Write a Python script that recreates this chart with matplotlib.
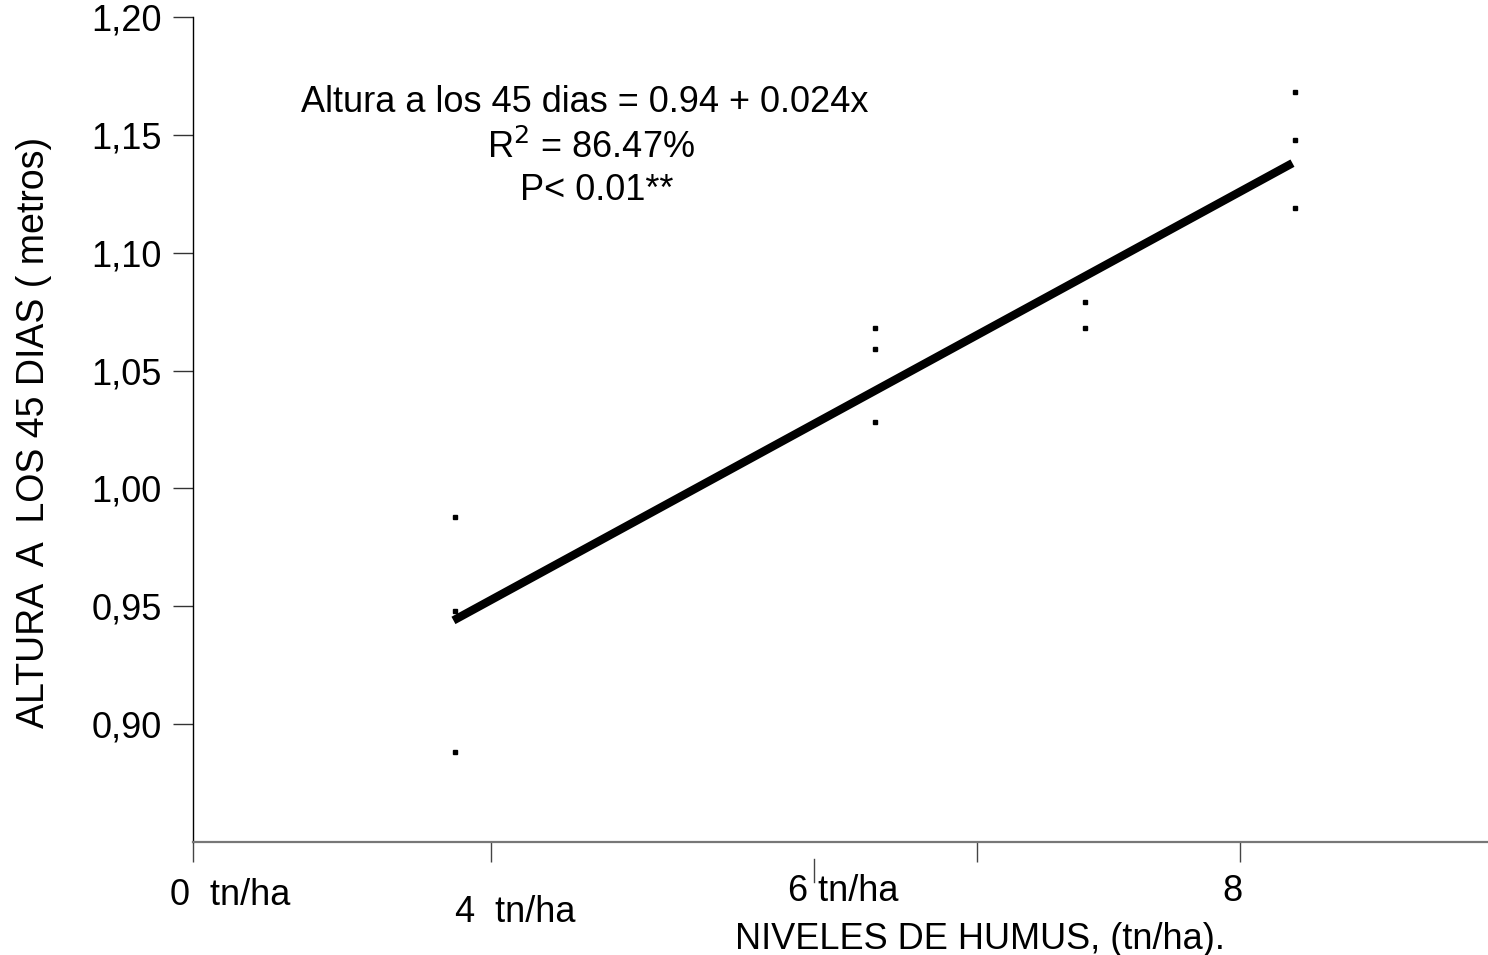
import matplotlib
matplotlib.use("Agg")
import matplotlib.pyplot as plt
from matplotlib.transforms import blended_transform_factory

plt.rcParams['font.family'] = ['Liberation Sans', 'DejaVu Sans']

# Observed data (niveles de humus vs altura a los 45 dias)
x_obs = [2.0, 2.0, 2.0, 5.21, 5.21, 5.21, 6.815, 6.815, 8.42, 8.42, 8.42]
y_obs = [0.988, 0.948, 0.888, 1.068, 1.059, 1.028, 1.079, 1.068, 1.168, 1.148, 1.119]

# Regression line endpoints
x_fit = [1.99, 8.40]
y_fit = [0.944, 1.138]

y_ticks = [0.90, 0.95, 1.00, 1.05, 1.10, 1.15, 1.20]
y_ticklabels = ['0,90', '0,95', '1,00', '1,05', '1,10', '1,15', '1,20']

x_ticks = [0.0, 2.277, 5.99, 8.0]
x_labels = ['0  tn/ha', '4  tn/ha', '6 tn/ha', '8']
x_label_pos = [0.283, 2.46, 4.966, 7.945]
x_label_y = [-0.065, -0.086, -0.0606, -0.0606]

FS = 26

fig = plt.figure(figsize=(14.88, 9.55), dpi=100)
ax = fig.add_axes([193/1488, 113/955, 1 - 193/1488, (842-17)/955])

ax.plot(x_fit, y_fit, color='black', lw=6.0, solid_capstyle='butt')
ax.plot(x_obs, y_obs, linestyle='none', marker='s', ms=2.6, color='black')

ax.set_xlim(0, 9.894)
ax.set_ylim(0.85, 1.20)

ax.spines['top'].set_visible(False)
ax.spines['right'].set_visible(False)
ax.spines['left'].set_color('black')
ax.spines['left'].set_linewidth(1.0)
ax.spines['bottom'].set_color('#777777')
ax.spines['bottom'].set_linewidth(1.6)

ax.set_yticks(y_ticks)
ax.set_yticklabels(y_ticklabels, fontsize=FS)
ax.tick_params(axis='y', length=14.4, width=1.0, color='#333333', pad=8)

ax.set_xticks(x_ticks)
ax.set_xticklabels([])
ax.tick_params(axis='x', length=14.4, width=1.0, color='#444444')

trans = blended_transform_factory(ax.transData, ax.transAxes)
for xp, yp, lab in zip(x_label_pos, x_label_y, x_labels):
    ax.text(xp, yp, lab, transform=trans, ha='center', va='center', fontsize=FS)

# detached short tick below "6 tn/ha"
ax.plot([4.745, 4.745], [-0.0206, -0.0485], transform=trans, color='#444444',
        lw=1.0, clip_on=False)

ax.text(6.01, -0.1185, 'NIVELES DE HUMUS, (tn/ha).', transform=trans,
        ha='center', va='center', fontsize=FS)

fig.text(34/1488, 1 - 432/955, 'ALTURA  A  LOS 45 DIAS ( metros)', rotation=90,
         ha='center', va='center', fontsize=27)

ax.text(2.995, 1.1639, 'Altura a los 45 dias = 0.94 + 0.024x', ha='center',
        va='center', fontsize=FS)
ax.text(3.04, 1.1444, r'R$^2$ = 86.47%', ha='center', va='center', fontsize=FS)
ax.text(3.087, 1.1266, 'P< 0.01**', ha='center', va='center', fontsize=FS)

fig.savefig('out.png', dpi=100)
